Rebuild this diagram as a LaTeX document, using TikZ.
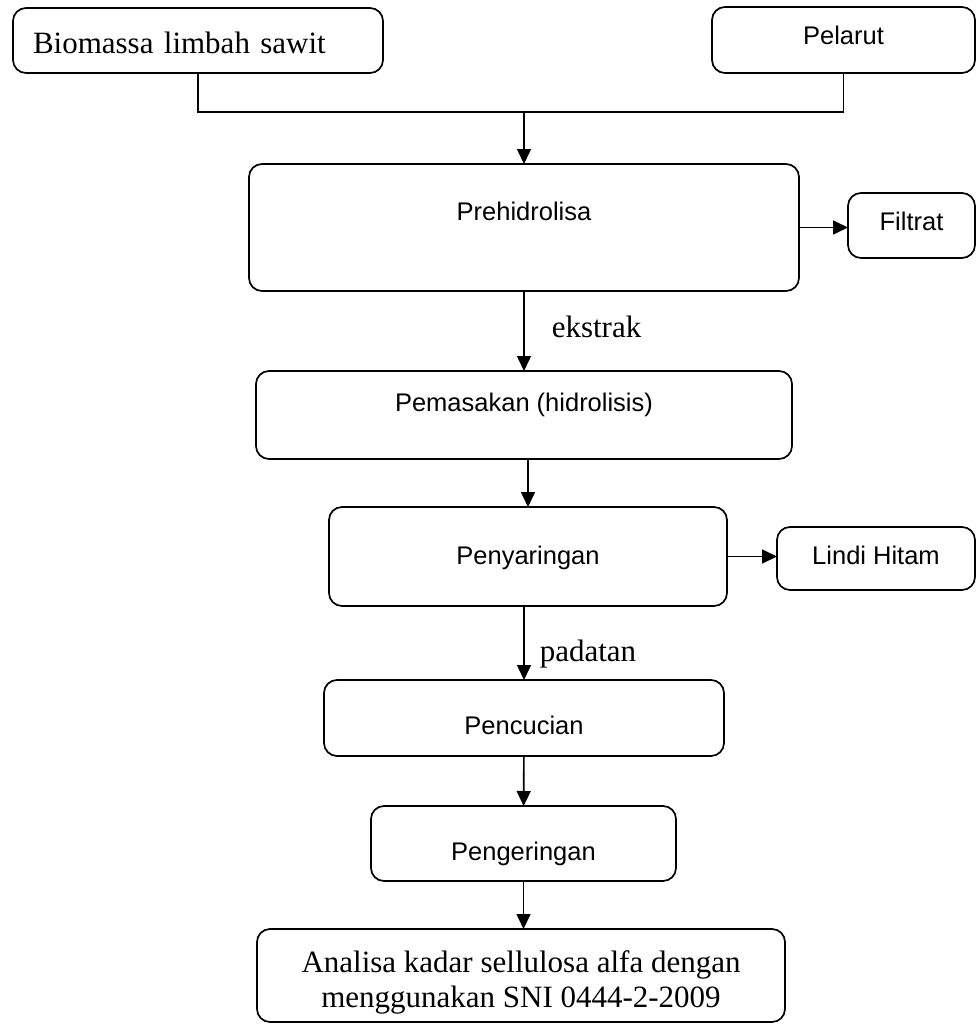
\documentclass[tikz,border=0pt]{standalone}
\usepackage{fontspec}
\setmainfont{Liberation Serif}
\newfontfamily\arialfont{Liberation Sans}
\usetikzlibrary{arrows.meta}

\begin{document}
\begin{tikzpicture}[x=1pt,y=-1pt]
  \tikzset{BoxStyle/.style = {
    shape           = rectangle,
    rounded corners = 13pt,
    draw            = black,
    fill            = white,
    line width      = 1.7pt,
    text            = black,
    inner sep       = 0pt,
    outer sep       = 0pt,
    anchor          = base,
    font            = \arialfont\fontsize{25.5}{30}\selectfont
    }
  }
  \tikzset{SerifBoxStyle/.style = {
    BoxStyle,
    font            = \fontsize{31}{35}\selectfont
    }
  }
  \tikzset{LineStyle/.style = {
    draw            = black,
    line width      = 1.6pt
    }
  }
  \tikzset{EdgeStyle/.style = {
    LineStyle,
    -{Triangle[length=15pt,width=14pt]}
    }
  }
  \tikzset{EdgeLabelStyle/.style = {
    anchor          = west,
    inner sep       = 0pt,
    text            = black,
    font            = \fontsize{31}{35}\selectfont
    }
  }

  \useasboundingbox (0,0) rectangle (976,1025);

	\node[SerifBoxStyle, text width=330pt, align=left, inner xsep=20pt,
	  text height=45pt, text depth=20pt](A1) at (198, 53) {Biomassa limbah sawit};
	\node[BoxStyle, minimum width=263pt, text height=38pt, text depth=28pt](A2) at (843.5, 45) {Pelarut};
	\node[BoxStyle, minimum width=550pt, text height=56pt, text depth=71pt](B1) at (524, 220) {Prehidrolisa};
	\node[BoxStyle, minimum width=127pt, text height=37pt, text depth=28pt](B2) at (911.5, 230) {Filtrat};
	\node[BoxStyle, minimum width=536pt, text height=40pt, text depth=48pt](C1) at (524, 411) {Pemasakan (hidrolisis)};
	\node[BoxStyle, minimum width=398pt, text height=57pt, text depth=42pt](D1) at (528, 564) {Penyaringan};
	\node[BoxStyle, minimum width=198pt, text height=37pt, text depth=26pt](D2) at (876, 564) {Lindi Hitam};
	\node[BoxStyle, minimum width=400pt, text height=54pt, text depth=22pt](E1) at (524, 734) {Pencucian};
	\node[BoxStyle, minimum width=305pt, text height=54pt, text depth=21pt](F1) at (523.5, 860) {Pengeringan};
	\node[SerifBoxStyle, anchor=center, align=center, minimum width=528pt, minimum height=93pt](G1)
	  at (521, 975.5) {\rule{0pt}{35pt}Analisa kadar sellulosa alfa dengan\\menggunakan SNI 0444-2-2009};

	\coordinate (M) at (524, 112);
	\draw[LineStyle](A1.south) |- (M) -| (A2.south);
	\draw[EdgeStyle](M) to (B1.north);
	\draw[EdgeStyle](B1.east) to (B1.east -| B2.west);
	\draw[EdgeStyle](B1) to node[EdgeLabelStyle, pos=0.45, xshift=27pt]{ekstrak} (C1);
	\draw[EdgeStyle](D1.north |- C1.south) to (D1.north);
	\draw[EdgeStyle](D1.east) to (D1.east -| D2.west);
	\draw[EdgeStyle](E1.north |- D1.south) to node[EdgeLabelStyle, pos=0.65, xshift=15pt]{padatan} (E1.north);
	\draw[EdgeStyle](E1) to (F1);
	\draw[EdgeStyle](F1.south) to (F1.south |- G1.north);

  \end{tikzpicture}
\end{document}
